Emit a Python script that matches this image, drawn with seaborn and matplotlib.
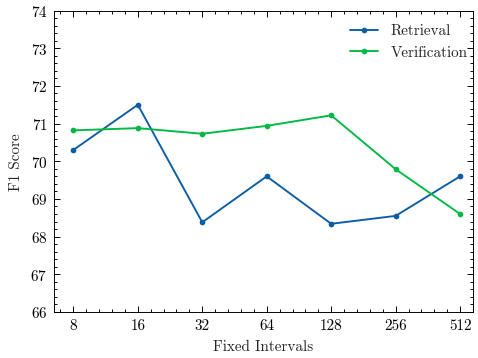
import numpy as np
import pandas as pd
import matplotlib
matplotlib.use("Agg")
import matplotlib.pyplot as plt
import seaborn as sns
from matplotlib.ticker import MultipleLocator

# dados
intervals = ["8", "16", "32", "64", "128", "256", "512"]
retrieval = [70.3, 71.5, 68.38, 69.6, 68.34, 68.55, 69.6]
verification = [70.82, 70.88, 70.73, 70.94, 71.22, 69.79, 68.6]

df = pd.DataFrame({
    "pos": list(range(len(intervals))) * 2,
    "F1": retrieval + verification,
    "serie": ["Retrieval"] * len(intervals) + ["Verification"] * len(intervals),
})

sns.set_style("ticks")
plt.rcParams.update({
    "font.family": ["cmr10", "DejaVu Serif"],
    "axes.formatter.use_mathtext": True,
    "font.size": 8,
    "axes.linewidth": 0.5,
    "xtick.direction": "in",
    "ytick.direction": "in",
    "xtick.top": True,
    "ytick.right": True,
    "xtick.major.size": 3,
    "ytick.major.size": 3,
    "xtick.minor.size": 1.5,
    "ytick.minor.size": 1.5,
    "xtick.major.width": 0.5,
    "ytick.major.width": 0.5,
    "xtick.minor.width": 0.5,
    "ytick.minor.width": 0.5,
    "xtick.minor.visible": True,
    "ytick.minor.visible": True,
    "xtick.color": "black",
    "ytick.color": "black",
    "axes.edgecolor": "black",
})

fig = plt.figure(figsize=(3.5, 2.625), dpi=478 / 3.5)
ax = fig.add_axes([0.113, 0.1285, 0.8765, 0.8405])

sns.lineplot(data=df, x="pos", y="F1", hue="serie", marker="o",
             palette={"Retrieval": "#0C5DA5", "Verification": "#00B945"},
             linewidth=1.0, markersize=3, markeredgewidth=0, ax=ax)

ax.set_xlim(-0.3, 6.2)
ax.set_ylim(66, 74)
ax.set_xticks(range(len(intervals)))
ax.set_xticklabels(intervals)
ax.xaxis.set_minor_locator(MultipleLocator(0.2))
ax.yaxis.set_minor_locator(MultipleLocator(0.2))
ax.set_xlabel("Fixed Intervals")
ax.set_ylabel("F1 Score")
for s in ax.spines.values():
    s.set_visible(True)
ax.legend(frameon=False, loc="upper right", title=None,
          bbox_to_anchor=(1.02, 1.0), handlelength=1.9)

fig.savefig("out.png", dpi=478 / 3.5)
